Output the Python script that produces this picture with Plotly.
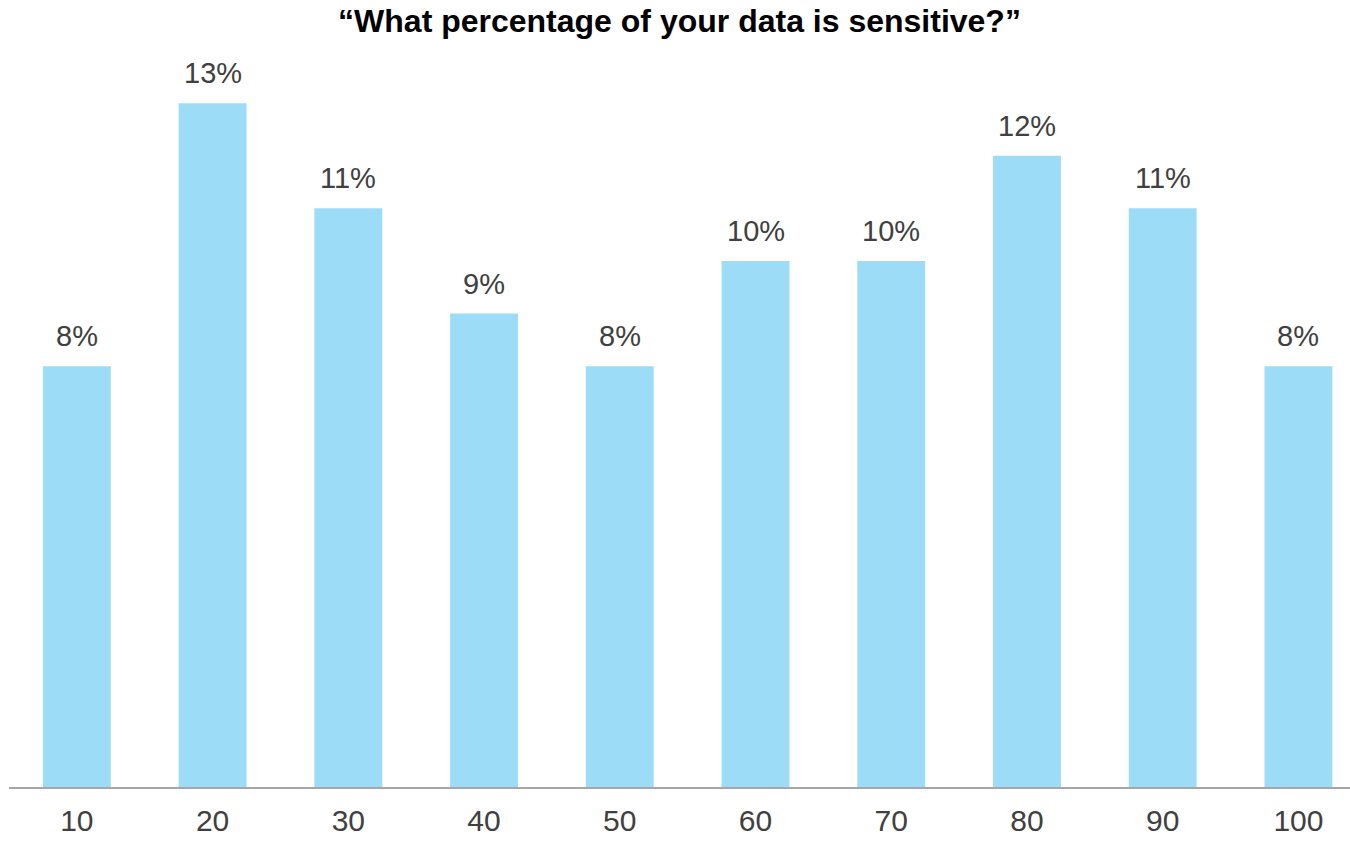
import plotly.graph_objects as go

categories = ["10", "20", "30", "40", "50", "60", "70", "80", "90", "100"]
values = [8, 13, 11, 9, 8, 10, 10, 12, 11, 8]
labels = [f"{v}%" for v in values]

bar_color = "#9DDCF6"
text_color = "#404040"
FONT = "Liberation Sans, Arial, sans-serif"

fig = go.Figure()
fig.add_trace(go.Bar(
    x=categories, y=values, width=0.5,
    marker=dict(color=bar_color, line=dict(width=0)),
    hoverinfo="skip",
))

for i, (v, t) in enumerate(zip(values, labels)):
    fig.add_annotation(x=i, y=v, text=t, showarrow=False, yanchor="bottom",
                       xref="x", yref="y", yshift=12,
                       font=dict(family=FONT, size=29, color=text_color))

fig.update_layout(
    width=1350, height=841,
    margin=dict(l=9, r=0, t=60, b=54, autoexpand=False),
    paper_bgcolor="white", plot_bgcolor="white",
    title=dict(text="“What percentage of your data is sensitive?”", x=0.5, xanchor="center",
               y=0.975, yanchor="middle", xref="paper",
               font=dict(family=FONT, size=32, color="black", weight="bold")),
    showlegend=False,
    xaxis=dict(type="category", range=[-0.5, 9.38], showgrid=False, zeroline=False,
               showline=True, linecolor="#A6A6A6", linewidth=2, automargin=False,
               ticks="", ticklabelstandoff=6,
               tickfont=dict(family=FONT, size=30, color=text_color)),
    yaxis=dict(range=[0, 13.82], visible=False, showgrid=False, zeroline=False),
)

fig.write_html("out.html")
